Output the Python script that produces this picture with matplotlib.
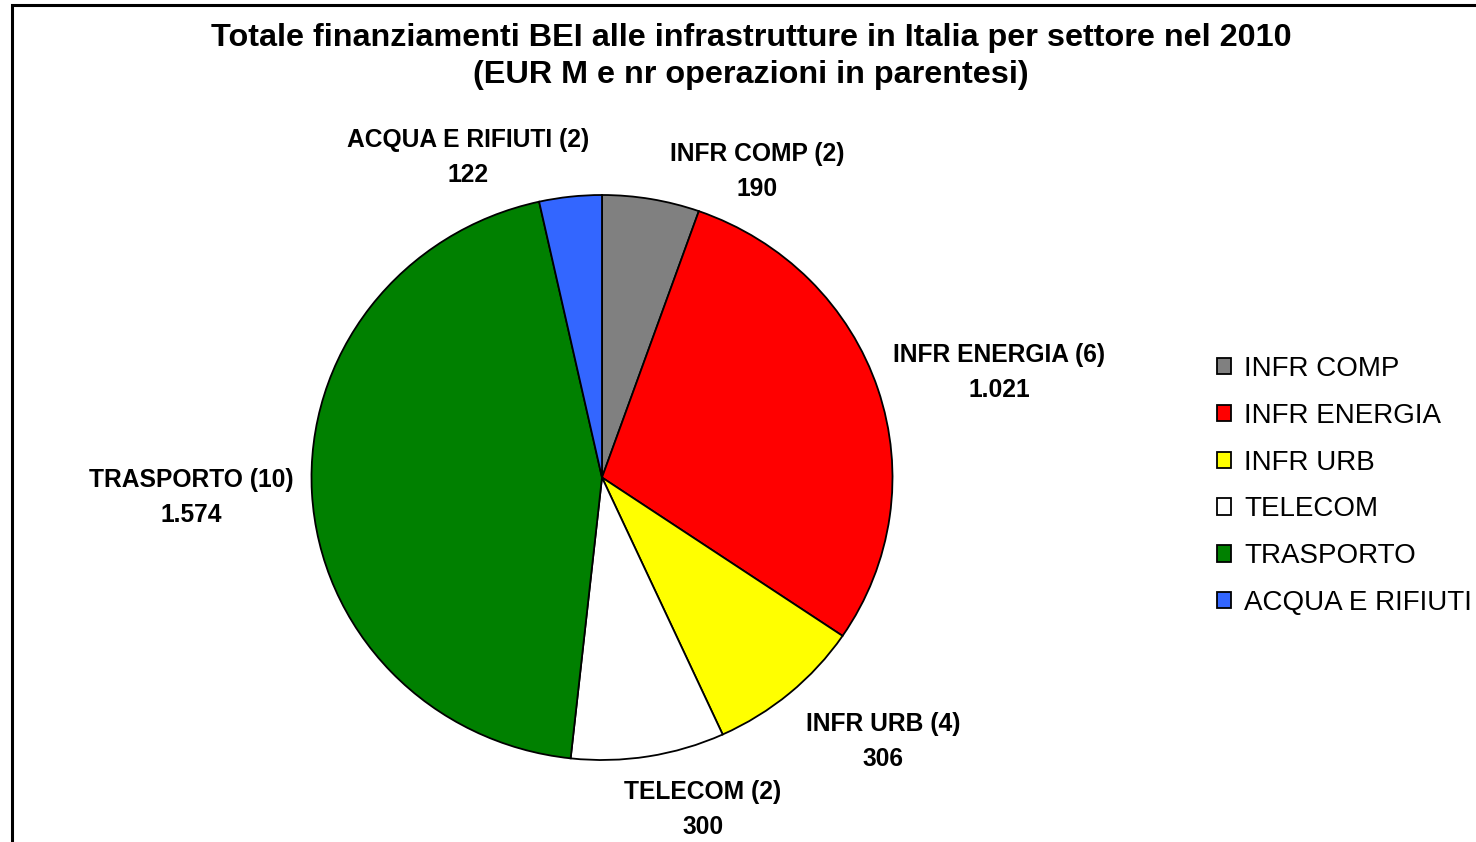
import numpy as np
import matplotlib
matplotlib.use("Agg")
import matplotlib.pyplot as plt
from matplotlib.patches import Patch, Rectangle

plt.rcParams['font.family'] = ['Liberation Sans', 'DejaVu Sans']

# data
sectors = ["INFR COMP", "INFR ENERGIA", "INFR URB", "TELECOM", "TRASPORTO", "ACQUA E RIFIUTI"]
operations = [2, 6, 4, 2, 10, 2]
amounts = [190, 1021, 306, 300, 1574, 122]
value_labels = ["190", "1.021", "306", "300", "1.574", "122"]
colors = ["#808080", "#FF0000", "#FFFF00", "#FFFFFF", "#008000", "#3366FF"]

# label placement (pie radius units), hand-tuned like the Excel layout
label_pos = [(0.534, 1.082), (1.367, 0.373), (0.967, -0.935),
             (0.348, -1.176), (-1.415, -0.070), (-0.461, 1.132)]

W, H = 1476, 842
fig = plt.figure(figsize=(W / 100, H / 100), dpi=100)

# the Excel pie is slightly squashed vertically
cx, cy, rx, ry = 602, 477.5, 290.5, 282.5
ax = fig.add_axes([(cx - rx) / W, (H - cy - ry) / H, 2 * rx / W, 2 * ry / H])
wedges, _ = ax.pie(amounts, colors=colors, startangle=90, counterclock=False,
                   radius=1, wedgeprops=dict(edgecolor="black", linewidth=1.3))
ax.set_xlim(-1, 1)
ax.set_ylim(-1, 1)
ax.set_aspect("auto")
ax.axis("off")

for name, n, val, (lx, ly) in zip(sectors, operations, value_labels, label_pos):
    ax.text(lx, ly, f"{name} ({n})\n{val}", ha="center", va="center",
            fontsize=17.7, fontweight="bold", linespacing=1.57, clip_on=False)

fig.text(751 / W, 1 - 56.5 / H,
         "Totale finanziamenti BEI alle infrastrutture in Italia per settore nel 2010\n"
         "(EUR M e nr operazioni in parentesi)",
         ha="center", va="center", fontsize=23.3, fontweight="bold", linespacing=1.28)

handles = [Patch(facecolor=c, edgecolor="black", linewidth=1.3) for c in colors]
fig.legend(handles, sectors, loc="center left", bbox_to_anchor=(1217 / W, 1 - 486 / H),
           frameon=False, fontsize=20, handlelength=0.52, handleheight=0.52,
           handletextpad=0.47, labelspacing=0.75, borderpad=0, borderaxespad=0)

fig.add_artist(Rectangle((12.5 / W, -0.1), 2, (H - 5.5) / H + 0.1, transform=fig.transFigure,
                         fill=False, edgecolor="black", linewidth=2.2))

fig.savefig("out.png", dpi=100)
